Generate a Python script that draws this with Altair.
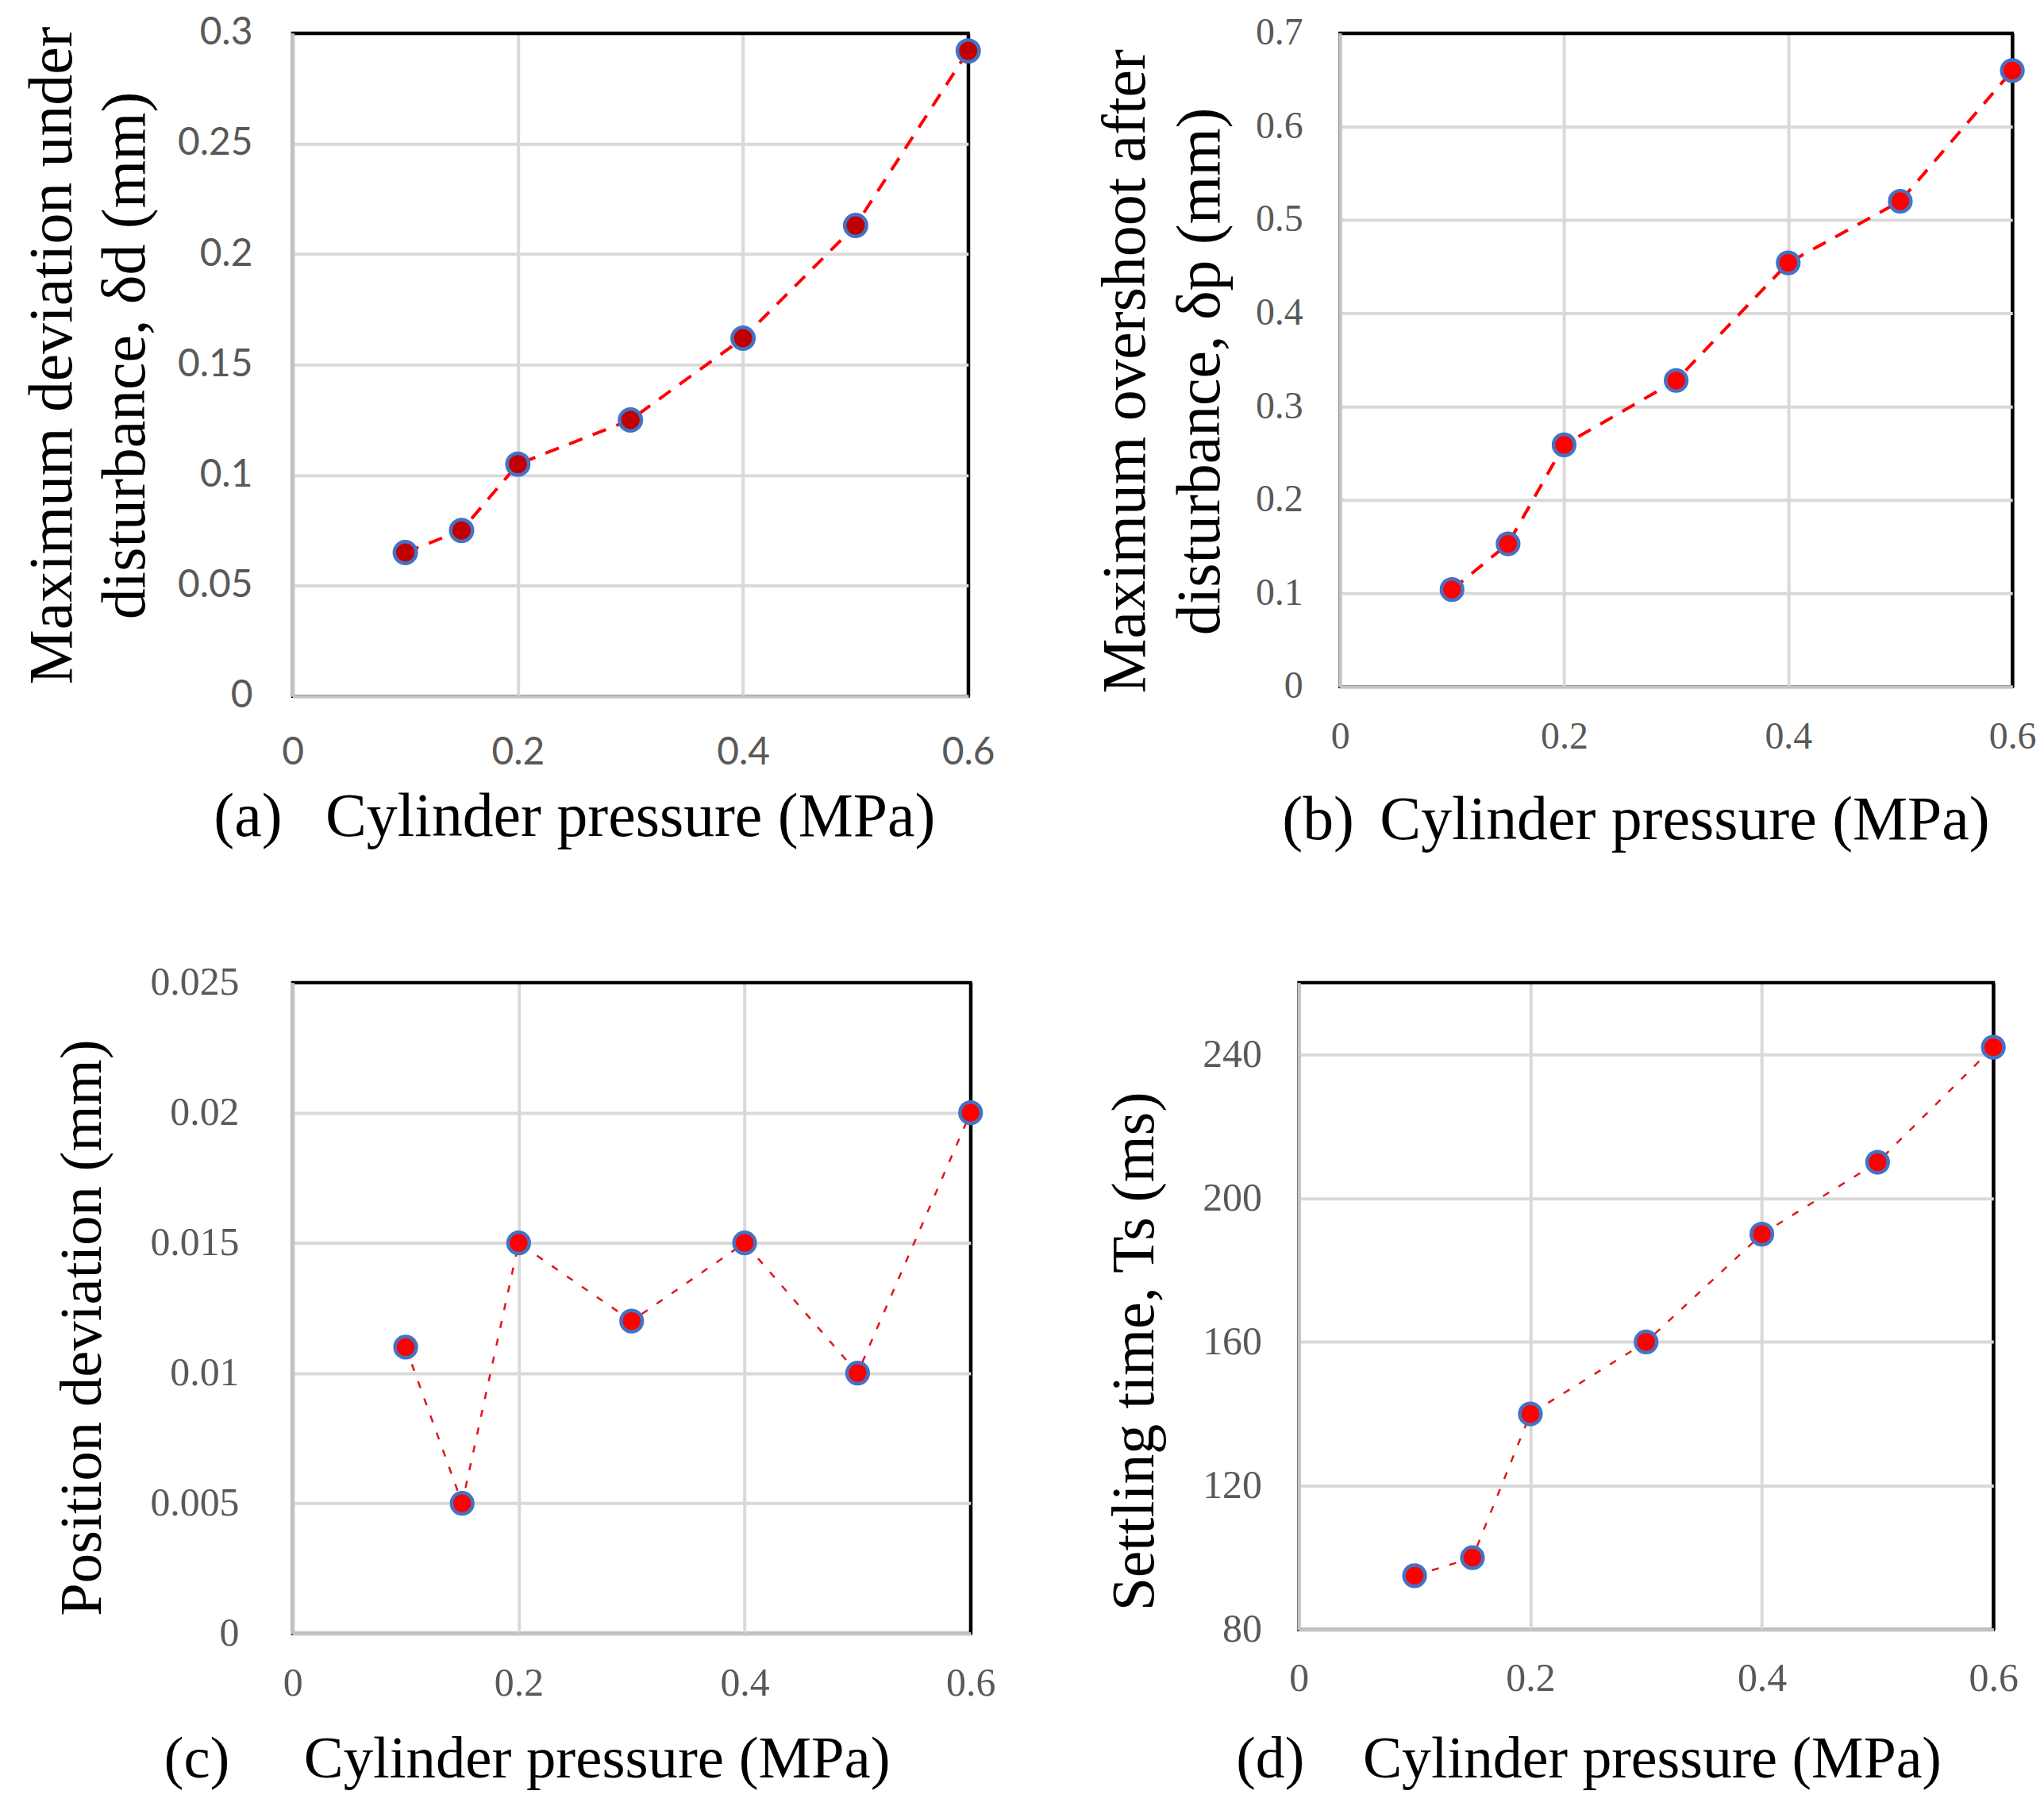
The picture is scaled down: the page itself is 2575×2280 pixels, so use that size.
import altair as alt
import pandas as pd

# ---- data ----
pressure = [0.1, 0.15, 0.2, 0.3, 0.4, 0.5, 0.6]
max_deviation = [0.065, 0.075, 0.105, 0.125, 0.162, 0.213, 0.292]
max_overshoot = [0.104, 0.153, 0.259, 0.328, 0.454, 0.520, 0.660]
position_deviation = [0.011, 0.005, 0.015, 0.012, 0.015, 0.010, 0.020]
settling_time = [95, 100, 140, 160, 190, 210, 242]

x_ticks = [0, 0.2, 0.4, 0.6]
a_ticks = [0, 0.05, 0.1, 0.15, 0.2, 0.25, 0.3]
b_ticks = [0, 0.1, 0.2, 0.3, 0.4, 0.5, 0.6, 0.7]
c_ticks = [0, 0.005, 0.01, 0.015, 0.02, 0.025]
d_ticks = [80, 120, 160, 200, 240, 260]

SERIF = "Liberation Serif"
SANS = "Lato"
GRID = "#D9D9D9"
DOMAIN = "#C4C4C4"
LABEL = "#595959"
NB = "\u00a0"


def grid_color(edge):
    return {"condition": {"test": f"datum.value >= {edge}", "value": "black"},
            "value": GRID}


def panel(values, ydom, yticks, w, h, ytitle, ytfs, ytx, yty, ylh,
          xtitle, xtfs, xtx, xty, label_font, label_size, ylabpad, xlabpad,
          fill, dash, dash_w, dash_color, size, ylabel_expr="'' + datum.value"):
    df = pd.DataFrame({"p": pressure, "v": values})
    yax = dict(values=yticks, labelExpr=ylabel_expr, grid=True,
               gridColor=grid_color(ydom[1]), gridWidth=4,
               domainColor=DOMAIN, domainWidth=4, ticks=False, tickSize=0,
               labelFont=label_font, labelFontSize=label_size, labelColor=LABEL,
               labelPadding=ylabpad, labelFlush=False, labelOverlap=False,
               title=ytitle, titleFont=SERIF, titleFontSize=ytfs,
               titleFontWeight="normal", titleColor="black", titleAngle=270,
               titleAlign="center", titleBaseline="alphabetic", titleX=ytx,
               titleY=yty, titleLineHeight=ylh)
    xax = dict(values=x_ticks, labelExpr="'' + datum.value", grid=True,
               gridColor=grid_color(0.6), gridWidth=4,
               domainColor=DOMAIN, domainWidth=4, ticks=False, tickSize=0,
               labelFont=label_font, labelFontSize=label_size, labelColor=LABEL,
               labelPadding=xlabpad, labelFlush=False, labelOverlap=False,
               title=xtitle, titleFont=SERIF, titleFontSize=xtfs,
               titleFontWeight="normal", titleColor="black", titleAngle=0,
               titleAlign="right", titleBaseline="alphabetic", titleX=xtx,
               titleY=xty)
    base = alt.Chart(df).encode(
        x=alt.X("p:Q", scale=alt.Scale(domain=[0, 0.6], nice=False, zero=False),
                axis=alt.Axis(**xax)),
        y=alt.Y("v:Q", scale=alt.Scale(domain=ydom, nice=False, zero=False),
                axis=alt.Axis(**yax)),
    )
    line = base.mark_line(color=dash_color, strokeDash=dash, strokeWidth=dash_w)
    pts = base.mark_circle(fill=fill, stroke="#4472C4", strokeWidth=4.5,
                           size=size, opacity=1)
    return alt.layer(line, pts).properties(width=w, height=h)


pa = panel(max_deviation, [0, 0.3], a_ticks, 854, 838,
           ["Maximum deviation under", "disturbance, δd (mm)"], 78, -280, 407, 92,
           "(a)" + NB * 2 + "\u2009" + "Cylinder pressure (MPa)", 78, 812, 176,
           SANS, 48, 51, 48, "#C00000", [18, 14], 4, "#FF0000", 760)

pb = panel(max_overshoot, [0, 0.7], b_ticks, 850, 826,
           ["Maximum overshoot after", "disturbance, δp (mm)"], 78, -247, 427, 94,
           "(b)" + NB + "\u2006" + "Cylinder pressure (MPa)", 78, 821, 192,
           SERIF, 48, 47, 40, "#FF0000", [18, 14], 4, "#FF0000", 720)

pc = panel(position_deviation, [0, 0.025], c_ticks, 857, 823,
           "Position deviation (mm)", 75, -243, 436, 75,
           "(c)" + NB * 5 + "Cylinder pressure (MPa)", 75, 755, 181,
           SERIF, 50, 68, 38, "#FF0000", [9, 14], 2.5, "#E0141E", 720)

pd_ = panel(settling_time, [80, 260], d_ticks, 878, 818,
            ["", "Settling time, Ts (ms)"], 76, -197, 466, 13,
            "(d)" + NB * 4 + "Cylinder pressure (MPa)", 74, 812, 186,
            SERIF, 50, 47, 37, "#FF0000", [9, 14], 2.5, "#E0141E", 720,
            ylabel_expr="datum.value == 260 ? ' ' : '' + datum.value")

chart = alt.concat(pa, pb, pc, pd_, columns=2, align="none",
                   spacing={"row": 137, "column": 121}).properties(
    padding={"left": 18, "top": 4, "right": 0, "bottom": 0},
    background="white",
).configure_view(stroke="black", strokeWidth=4)

chart.save("out.html", embed_options={"renderer": "svg", "actions": False})
